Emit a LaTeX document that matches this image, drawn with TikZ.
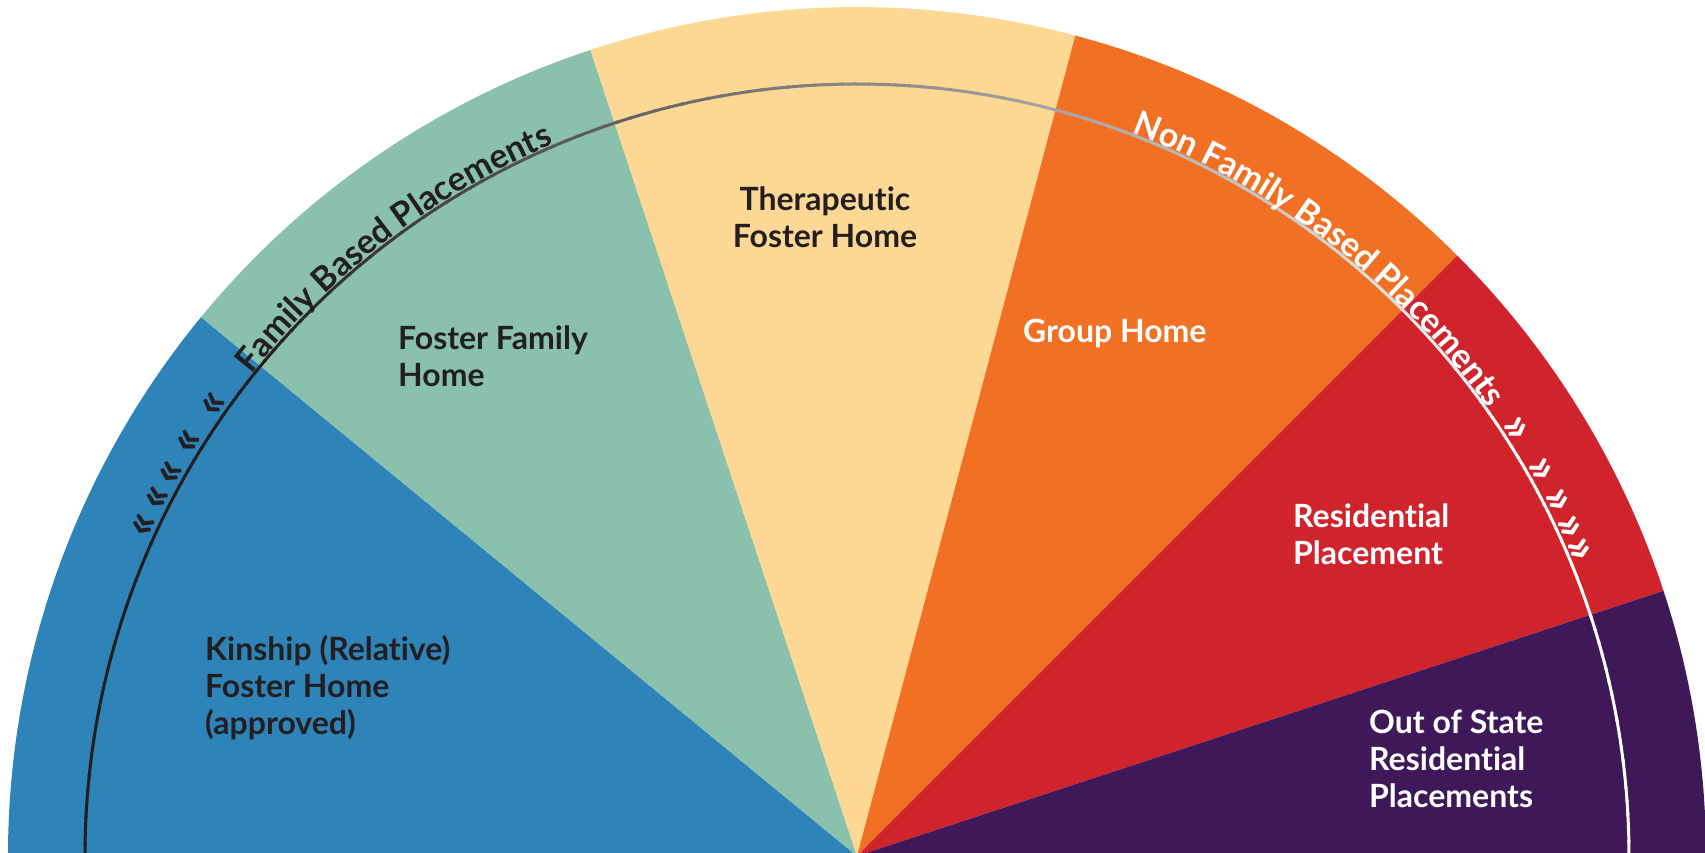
\documentclass[tikz,border=0pt]{standalone}
\usepackage{fontspec}
\setmainfont{Lato}[Ligatures=NoCommon]
\usetikzlibrary{decorations.text}

\definecolor{kin}{RGB}{46,131,185}
\definecolor{fos}{RGB}{137,193,173}
\definecolor{ther}{RGB}{253,216,148}
\definecolor{grp}{RGB}{242,112,35}
\definecolor{res}{RGB}{208,35,44}
\definecolor{oos}{RGB}{62,24,88}
\definecolor{ink}{RGB}{35,31,32}

\newcommand{\lblfont}{\fontsize{32}{37}\selectfont\bfseries}
\newcommand{\arcfont}{\fontsize{34}{37}\selectfont\bfseries}

\begin{document}
\begin{tikzpicture} [
						x=1pt, y=1pt,
						lbl/.style={font=\lblfont, align=left, anchor=base west, inner sep=0pt},
						chev/.style={font=\fontsize{48}{48}\selectfont\bfseries, inner sep=0pt}
					]

\useasboundingbox (-857,0) rectangle (848,853);
\clip (-857,0) rectangle (848,853);

\begin{scope}[shift={(0,-3)}]
\fill[kin]  (0,0) -- (140.6:849) arc[start angle=140.6, end angle=180,   radius=849] -- cycle;
\fill[fos]  (0,0) -- (108.3:849) arc[start angle=108.3, end angle=140.6, radius=849] -- cycle;
\fill[ther] (0,0) -- (75.1:849)  arc[start angle=75.1,  end angle=108.3, radius=849] -- cycle;
\fill[grp]  (0,0) -- (45:849)    arc[start angle=45,    end angle=75.1,  radius=849] -- cycle;
\fill[res]  (0,0) -- (18.2:849)  arc[start angle=18.2,  end angle=45,    radius=849] -- cycle;
\fill[oos]  (0,0) -- (-1:849)    arc[start angle=-1,    end angle=18.2,  radius=849] -- cycle;

\foreach \a in {0,...,179} {
	\pgfmathsetmacro{\t}{min(100,max(0,(140-\a)/110*100))}
	\draw[line width=3, color=white!\t!ink] (\a:772) arc[start angle=\a, end angle=\a+1.2, radius=772];
}

\path[decorate, decoration={text along path, text align=left, raise=2pt,
	text={|\arcfont\color{ink}|Family Based Placements}}]
	(141.5:772) arc[start angle=141.5, end angle=95, radius=772];
\path[decorate, decoration={text along path, text align=left, raise=2pt,
	text={|\arcfont\color{white}|Non Family Based Placements}}]
	(69.2:772) arc[start angle=69.2, end angle=15, radius=772];

\foreach \a [count=\i] in {155.1,152.9,150.8,148.2,144.9}
	\node (l\i) [chev, text=ink, rotate=\a-90] at (\a:785) {«};
\foreach \a [count=\i] in {33,29.5,26.9,24.8,23}
	\node (r\i) [chev, text=white, rotate=\a-90] at (\a:784) {»};
\end{scope}

\node (kinship) [lbl, text=ink] at (-652,118) {Kinship (Relative)\\Foster Home\\(approved)};
\node (foster) [lbl, text=ink] at (-459,466) {Foster Family\\Home};
\node (therapy) [lbl, text=ink, align=center, anchor=base] at (-32,605) {Therapeutic\\Foster Home};
\node (group) [lbl, text=white] at (166,510) {Group Home};
\node (resid) [lbl, text=white] at (436,288) {Residential\\Placement};
\node (outstate) [lbl, text=white] at (512,45) {Out of State\\Residential\\Placements};
\end{tikzpicture}
\end{document}
